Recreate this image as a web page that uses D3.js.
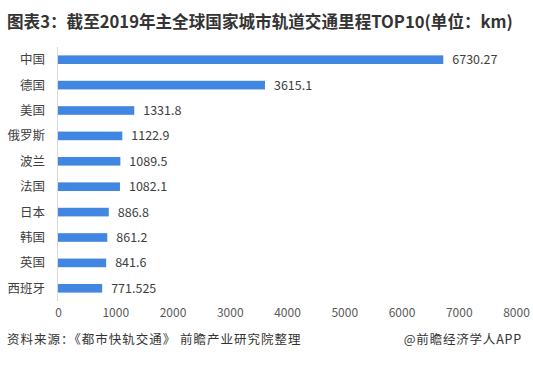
<!DOCTYPE html>
<html>
<head>
<meta charset="utf-8">
<script src="https://cdn.jsdelivr.net/npm/d3@7"></script>
<style>
  body { margin: 0; background: #fff; }
  text { font-family: "Noto Sans CJK SC", "Microsoft YaHei", sans-serif; }
</style>
</head>
<body>
<div id="chart"></div>
<script>
const countries = ["中国", "德国", "美国", "俄罗斯", "波兰", "法国", "日本", "韩国", "英国", "西班牙"];
const mileage = [6730.27, 3615.1, 1331.8, 1122.9, 1089.5, 1082.1, 886.8, 861.2, 841.6, 771.525];
const valueLabels = ["6730.27", "3615.1", "1331.8", "1122.9", "1089.5", "1082.1", "886.8", "861.2", "841.6", "771.525"];
const xTicks = [0, 1000, 2000, 3000, 4000, 5000, 6000, 7000, 8000];

const width = 533, height = 366;
const svg = d3.select("#chart").append("svg").attr("width", width).attr("height", height);

svg.append("text")
  .attr("x", 7).attr("y", 28)
  .attr("font-size", "16.6px").attr("font-weight", "bold").attr("fill", "#333")
  .text("图表3：截至2019年主全球国家城市轨道交通里程TOP10(单位：km)");

const x = d3.scaleLinear().domain([0, 8000]).range([58, 516]);
const y = d3.scaleBand().domain(countries).range([47, 301]).paddingInner(0.66).paddingOuter(0.33);

// vertical axis line
svg.append("line")
  .attr("x1", 57.5).attr("x2", 57.5).attr("y1", 47).attr("y2", 301)
  .attr("stroke", "#d9d9d9").attr("stroke-width", 1);

svg.selectAll(".bar")
  .data(mileage)
  .enter()
  .append("rect")
  .attr("class", "bar")
  .attr("x", x(0))
  .attr("y", (d, i) => y(countries[i]))
  .attr("width", d => x(d) - x(0))
  .attr("height", y.bandwidth())
  .attr("fill", "#4186e0");

svg.selectAll(".val")
  .data(mileage)
  .enter()
  .append("text")
  .attr("class", "val")
  .attr("x", d => x(d) + 9)
  .attr("y", (d, i) => y(countries[i]) + y.bandwidth() / 2)
  .attr("dy", "0.36em")
  .attr("font-size", "12.5px").attr("fill", "#404040")
  .text((d, i) => valueLabels[i]);

svg.selectAll(".cat")
  .data(countries)
  .enter()
  .append("text")
  .attr("class", "cat")
  .attr("x", 45)
  .attr("y", d => y(d) + y.bandwidth() / 2)
  .attr("dy", "0.36em")
  .attr("text-anchor", "end")
  .attr("font-size", "12.5px").attr("fill", "#404040")
  .text(d => d);

const xAxis = svg.append("g")
  .attr("transform", "translate(0,313)")
  .call(d3.axisBottom(x).tickValues(xTicks).tickSize(0).tickFormat(d3.format("d")));
xAxis.select(".domain").remove();
xAxis.selectAll("text")
  .attr("font-size", "12px").attr("fill", "#595959")
  .attr("font-family", "\"Noto Sans CJK SC\", sans-serif")
  .attr("dy", "0.32em").attr("y", 0);

svg.append("text")
  .attr("x", 7).attr("y", 344)
  .attr("font-size", "12.5px").attr("fill", "#333")
  .attr("letter-spacing", "1px")
  .text("资料来源：《都市快轨交通》 前瞻产业研究院整理");

svg.append("text")
  .attr("x", 522).attr("y", 344)
  .attr("text-anchor", "end")
  .attr("font-size", "12.5px").attr("fill", "#333")
  .attr("letter-spacing", "0.8px")
  .text("@前瞻经济学人APP");
</script>
</body>
</html>
